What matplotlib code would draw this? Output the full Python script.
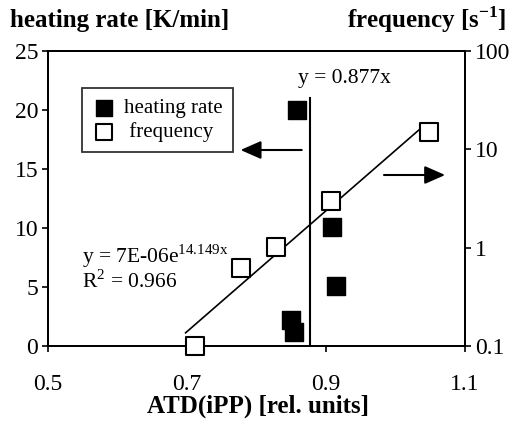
import numpy as np
import matplotlib
matplotlib.use("Agg")
import matplotlib.pyplot as plt

plt.rcParams['font.family'] = ['Liberation Serif', 'DejaVu Serif']
plt.rcParams['mathtext.fontset'] = 'custom'
plt.rcParams['mathtext.rm'] = 'Liberation Serif'
plt.rcParams['mathtext.bf'] = 'Liberation Serif:bold'

# data
heat_x = [0.858, 0.908, 0.914, 0.849, 0.854]
heat_y = [20.0, 10.1, 5.1, 2.2, 1.2]
freq_x = [0.712, 0.778, 0.828, 0.907, 1.048]
freq_y = [0.10, 0.62, 1.02, 2.98, 15.0]
fit_a, fit_b = 7e-6, 14.149
fit_range = [0.698, 1.035]
vline_x = 0.877

xticks = [0.5, 0.7, 0.9, 1.1]
yticks_left = [0, 5, 10, 15, 20, 25]
yticks_right = [0.1, 1, 10, 100]

fig = plt.figure(figsize=(5.11, 4.23), dpi=100)
ax = fig.add_axes([48/511, 1-346/423, (465-48)/511, (346-51)/423])
ax2 = ax.twinx()

ax.set_xlim(0.5, 1.1)
ax.set_ylim(0, 25)
ax2.set_yscale('log')
ax2.set_ylim(0.1, 100)

ax.set_xticks(xticks)
ax.set_xticklabels(['0.5', '0.7', '0.9', '1.1'])
ax.set_yticks(yticks_left)
ax2.set_yticks(yticks_right)
ax2.set_yticklabels(['0.1', '1', '10', '100'])
ax2.yaxis.set_minor_locator(matplotlib.ticker.NullLocator())

for a in (ax, ax2):
    for s in a.spines.values():
        s.set_linewidth(1.3)
    a.tick_params(direction='out', length=4, width=1.2, labelsize=17, colors='black', pad=3)
ax.tick_params(axis='x', pad=16)

# fit line
xf = np.linspace(fit_range[0], fit_range[1], 100)
ax2.plot(xf, fit_a*np.exp(fit_b*xf), color='black', lw=1.2, zorder=2)

# vertical line
ax.plot([vline_x, vline_x], [0, 21.0], color='black', lw=1.5, zorder=2)

# points
h1 = ax.scatter(heat_x, heat_y, marker='s', s=160, color='black', zorder=3, label='heating rate')
h2 = ax2.scatter(freq_x, freq_y, marker='s', s=160, facecolor='white', edgecolor='black', linewidths=1.5, zorder=4, label='frequency', clip_on=False)

leg = ax.legend([h1, h2], ['heating rate', ' frequency'], loc='upper left',
                bbox_to_anchor=((82-48)/417, (346-88)/295), fontsize=15,
                frameon=True, fancybox=False, edgecolor='black', borderpad=0.5,
                handletextpad=0.4, labelspacing=0.2, borderaxespad=0, handlelength=1.1,
                markerscale=0.95)
leg.get_frame().set_linewidth(1.3)

# arrows
aprops = dict(arrowstyle='-|>,head_length=1.25,head_width=0.55', color='black', lw=1.5, shrinkA=0, shrinkB=0)
ax.annotate('', xy=(0.5+(240-48)/693, (346-150)/11.8), xytext=(0.5+(301-48)/693, (346-150)/11.8),
            arrowprops=aprops)
ax.annotate('', xy=(0.5+(444-48)/693, (346-175)/11.8), xytext=(0.5+(383-48)/693, (346-175)/11.8),
            arrowprops=aprops)

# texts
fig.text(298/511, 1-78/423, 'y = 0.877x', fontsize=15.5, va='center', ha='left')
fig.text(82/511, 1-256/423, 'y = 7E-06e$^{\\mathrm{14.149x}}$', fontsize=15.5, va='center', ha='left')
fig.text(82/511, 1-281/423, 'R$^{\\mathrm{2}}$ = 0.966', fontsize=15.5, va='center', ha='left')

fig.text(10/511, 1-20/423, 'heating rate [K/min]', fontsize=18, fontweight='bold', va='center', ha='left')
fig.text(506/511, 1-20/423, 'frequency [s$^{\\mathbf{-1}}$]', fontsize=18, fontweight='bold', va='center', ha='right')
fig.text(258/511, 1-406/423, 'ATD(iPP) [rel. units]', fontsize=18, fontweight='bold', va='center', ha='center')

fig.savefig('out.png', dpi=100)
